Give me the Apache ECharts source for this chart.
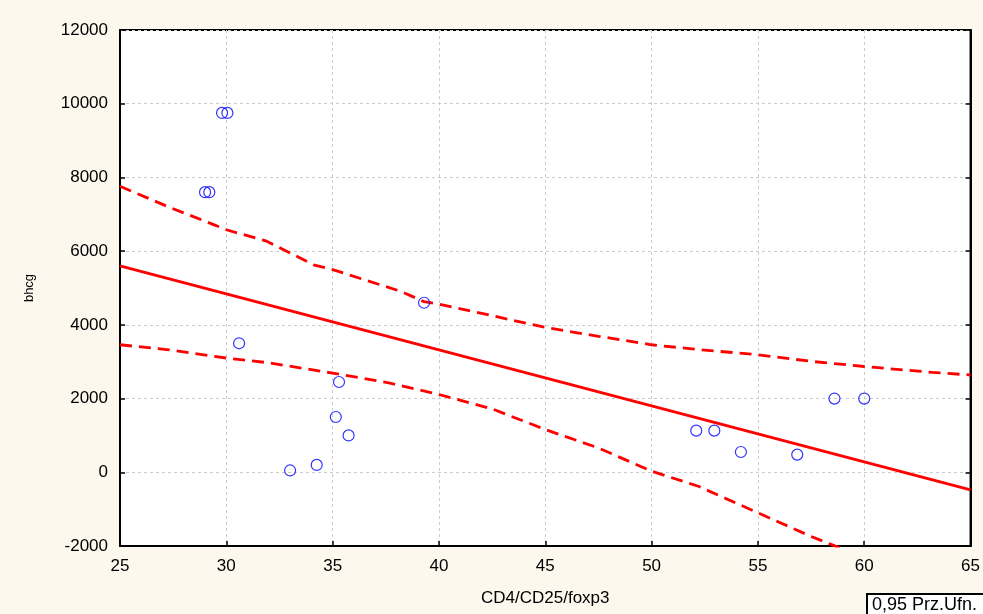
<!DOCTYPE html>
<html>
<head>
<meta charset="utf-8">
<script src="https://cdn.jsdelivr.net/npm/echarts@6/dist/echarts.min.js"></script>
<style>
  html, body { margin: 0; padding: 0; background: #fcf8ee; }
  #chart { width: 983px; height: 614px; }
</style>
</head>
<body>
<div id="chart"></div>
<script>
// Observations: CD4/CD25/foxp3 (x) against bhcg (y)
const obsX = [29.8, 30.05, 29.0, 29.2, 30.6, 33.0, 34.25, 35.15, 35.3, 35.75, 39.3, 52.1, 52.95, 54.2, 56.85, 58.6, 60.0];
const obsY = [9750, 9750, 7600, 7600, 3500, 50, 200, 1500, 2450, 1000, 4600, 1130, 1130, 550, 480, 2000, 2000];

// Fitted regression line (end points)
const fitX = [25, 65];
const fitY = [5600, -480];

// 0.95 confidence band, upper edge
const upperX = [25, 27.2, 29.4, 30, 31.9, 34.1, 35, 38.2, 39.3, 40, 42.5, 45, 47.5, 50, 52.2, 55, 57.5, 60, 63.2, 65];
const upperY = [7760, 7220, 6720, 6580, 6270, 5630, 5500, 4910, 4630, 4560, 4250, 3930, 3690, 3460, 3330, 3190, 3010, 2870, 2710, 2640];

// 0.95 confidence band, lower edge
const lowerX = [25, 27.2, 30, 32, 35, 37.7, 40, 42.5, 45, 47.5, 50, 52.2, 55, 57.5, 58.5, 59.5];
const lowerY = [3460, 3330, 3100, 2970, 2690, 2420, 2110, 1720, 1160, 660, 30, -380, -1100, -1740, -1970, -2220];

const xTicks = { min: 25, max: 65, interval: 5 };
const yTicks = { min: -2000, max: 12000, interval: 2000 };

const zip = (xs, ys) => xs.map((x, i) => [x, ys[i]]);
const plain = v => String(v);

const font = 'Liberation Sans, Arial, sans-serif';
const red = '#ff0000';

const chart = echarts.init(document.getElementById('chart'), null, { renderer: 'canvas' });

const gridLine = { show: true, lineStyle: { color: '#cccccc', type: [3, 3], width: 1 } };

chart.setOption({
  animation: false,
  backgroundColor: '#fcf8ee',
  grid: {
    left: 120, right: 11, top: 30, bottom: 68,
    show: true, backgroundColor: '#ffffff', borderColor: '#000000', borderWidth: 2
  },
  xAxis: [{
    type: 'value', min: xTicks.min, max: xTicks.max, interval: xTicks.interval,
    name: 'CD4/CD25/foxp3', nameLocation: 'middle', nameGap: 44,
    nameTextStyle: { fontFamily: font, fontSize: 17, color: '#000' },
    axisLine: { show: true, onZero: false, lineStyle: { color: '#000', width: 2 } },
    axisTick: { show: true, inside: true, length: 5, lineStyle: { color: '#000', width: 1.5 } },
    axisLabel: { fontFamily: font, fontSize: 17, color: '#000', margin: 12, formatter: plain },
    splitLine: gridLine
  }],
  yAxis: [{
    type: 'value', min: yTicks.min, max: yTicks.max, interval: yTicks.interval,
    name: 'bhcg', nameLocation: 'middle', nameGap: 84, nameRotate: 90,
    nameTextStyle: { fontFamily: font, fontSize: 13, color: '#000' },
    axisLine: { show: true, onZero: false, lineStyle: { color: '#000', width: 2 } },
    axisTick: { show: true, inside: true, length: 5, lineStyle: { color: '#000', width: 1.5 } },
    axisLabel: { fontFamily: font, fontSize: 17, color: '#000', margin: 12, formatter: plain },
    splitLine: gridLine
  }, {
    type: 'value', position: 'right', min: yTicks.min, max: yTicks.max, interval: yTicks.interval,
    axisLine: { show: true, onZero: false, lineStyle: { color: '#000', width: 2 } },
    axisTick: { show: true, inside: true, length: 5, lineStyle: { color: '#000', width: 1.5 } },
    axisLabel: { show: false },
    splitLine: { show: false }
  }],
  series: [
    {
      type: 'line', data: zip(fitX, fitY), showSymbol: false, symbol: 'none',
      lineStyle: { color: red, width: 2.8 }, z: 3
    },
    {
      type: 'line', data: zip(upperX, upperY), showSymbol: false, symbol: 'none',
      lineStyle: { color: red, width: 2.8, type: [12, 7] }, z: 3
    },
    {
      type: 'line', data: zip(lowerX, lowerY), showSymbol: false, symbol: 'none',
      lineStyle: { color: red, width: 2.8, type: [12, 7] }, z: 3
    },
    {
      type: 'scatter', data: zip(obsX, obsY), symbol: 'circle', symbolSize: 11,
      itemStyle: { color: 'rgba(0,0,0,0)', borderColor: '#0000ff', borderWidth: 1.2 }, z: 4
    }
  ],
  graphic: [{
    type: 'group', left: 866, top: 593,
    children: [
      { type: 'rect', shape: { x: 0, y: 0, width: 140, height: 40 },
        style: { fill: '#ffffff', stroke: '#000000', lineWidth: 2 } },
      { type: 'text', x: 5, y: 2,
        style: { text: '0,95 Prz.Ufn.', fontFamily: font, fontSize: 18, fill: '#000' } }
    ]
  }]
});
</script>
</body>
</html>
